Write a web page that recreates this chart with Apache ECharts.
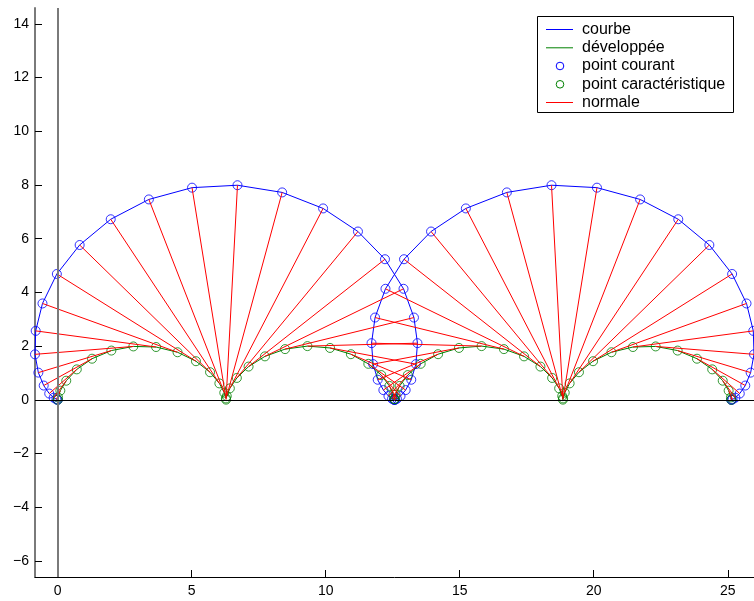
<!DOCTYPE html>
<html>
<head>
<meta charset="utf-8">
<script src="https://cdn.jsdelivr.net/npm/echarts@6/dist/echarts.min.js"></script>
<style>
html,body{margin:0;padding:0;background:#fff;}
#chart{width:754px;height:601px;}
</style>
</head>
<body>
<div id="chart"></div>
<script>
// courbe (point courant)
const curveX = [0, -0.006, -0.048, -0.150, -0.315, -0.521, -0.721, -0.846, -0.820, -0.567, -0.031, 0.820, 1.979, 3.402, 5.013, 6.708, 8.375, 9.903, 11.203, 12.211, 12.903, 13.292, 13.423, 13.364, 13.192, 12.982, 12.792, 12.657, 12.587, 12.567, 12.566, 12.545, 12.475, 12.341, 12.151, 11.940, 11.769, 11.709, 11.841, 12.230, 12.922, 13.930, 15.229, 16.758, 18.425, 20.120, 21.731, 23.154, 24.313, 25.163, 25.700, 25.953, 25.979, 25.854, 25.654, 25.448, 25.283, 25.181, 25.139, 25.133];
const curveY = [0, 0.001, 0.016, 0.078, 0.233, 0.531, 1.012, 1.693, 2.566, 3.587, 4.684, 5.763, 6.722, 7.460, 7.898, 7.989, 7.721, 7.125, 6.265, 5.234, 4.133, 3.063, 2.109, 1.328, 0.747, 0.362, 0.141, 0.038, 0.005, 0.000, 0.000, 0.005, 0.038, 0.141, 0.362, 0.747, 1.328, 2.109, 3.063, 4.133, 5.234, 6.265, 7.125, 7.721, 7.989, 7.898, 7.460, 6.722, 5.763, 4.684, 3.587, 2.566, 1.693, 1.012, 0.531, 0.233, 0.078, 0.016, 0.001, 0];
// développée (point caractéristique)
const evoluteX = [0, 0.013, 0.099, 0.320, 0.713, 1.282, 2.003, 2.823, 3.671, 4.472, 5.159, 5.685, 6.033, 6.216, 6.278, 6.283, 6.308, 6.423, 6.685, 7.122, 7.733, 8.484, 9.318, 10.161, 10.939, 11.590, 12.072, 12.376, 12.524, 12.565, 12.568, 12.609, 12.757, 13.061, 13.543, 14.193, 14.972, 15.815, 16.649, 17.400, 18.011, 18.448, 18.710, 18.825, 18.849, 18.855, 18.917, 19.100, 19.448, 19.974, 20.661, 21.462, 22.310, 23.130, 23.851, 24.420, 24.812, 25.033, 25.120, 25.133];
const evoluteY = [0, 0.089, 0.341, 0.711, 1.133, 1.530, 1.833, 1.987, 1.965, 1.770, 1.437, 1.027, 0.611, 0.265, 0.051, 0.006, 0.138, 0.425, 0.814, 1.237, 1.617, 1.887, 1.999, 1.931, 1.698, 1.340, 0.921, 0.516, 0.198, 0.023, 0.023, 0.198, 0.516, 0.921, 1.340, 1.698, 1.931, 1.999, 1.887, 1.617, 1.237, 0.814, 0.425, 0.138, 0.006, 0.051, 0.265, 0.611, 1.027, 1.437, 1.770, 1.965, 1.987, 1.833, 1.530, 1.133, 0.711, 0.341, 0.089, 0];

const xTicks = [0, 5, 10, 15, 20, 25];
const yTicks = [-6, -4, -2, 0, 2, 4, 6, 8, 10, 12, 14];
const xRange = [-0.846, 25.979];
const yRange = [-6.597, 14.587];
const legendNames = ['courbe', 'développée', 'point courant', 'point caractéristique', 'normale'];

const BLUE = '#0000ff', GREEN = '#008000', RED = '#ff0000';
const VGREY = '#7a7a7a';
const FONT = '"Liberation Sans", Arial, Helvetica, sans-serif';

const curvePts = curveX.map((x, i) => [x, curveY[i]]);
const evolutePts = evoluteX.map((x, i) => [x, evoluteY[i]]);
const normals = curveX.map((x, i) => ({ coords: [[x, curveY[i]], [evoluteX[i], evoluteY[i]]] }));

const fmt = v => String(v).replace('-', '\u2212');

const chart = echarts.init(document.getElementById('chart'), null, { renderer: 'canvas' });

// legend drawn as graphic
const lgX = 537.5, lgY = 16.5, lgW = 196, lgH = 96;
const rowY = [29.5, 47.8, 66, 84.3, 102.5];
const legendEls = [{
  type: 'rect', shape: { x: lgX, y: lgY, width: lgW, height: lgH },
  style: { fill: '#fff', stroke: '#000', lineWidth: 1 }, z: 100
}];
const kinds = ['line', 'line', 'circle', 'circle', 'line'];
const cols = [BLUE, GREEN, BLUE, GREEN, RED];
legendNames.forEach((n, i) => {
  if (kinds[i] === 'line') {
    legendEls.push({ type: 'line', shape: { x1: 546, y1: rowY[i], x2: 573, y2: rowY[i] },
      style: { stroke: cols[i], lineWidth: 1 }, z: 101 });
  } else {
    legendEls.push({ type: 'circle', shape: { cx: 560, cy: rowY[i], r: 3.8 },
      style: { fill: 'none', stroke: cols[i], lineWidth: 1 }, z: 101 });
  }
  legendEls.push({ type: 'text', x: 582, y: rowY[i],
    style: { text: n, fill: '#000', font: '16px ' + FONT, textVerticalAlign: 'middle', verticalAlign: 'middle' }, z: 101 });
});

const option = {
  animation: false,
  backgroundColor: '#fff',
  grid: { left: 35, top: 8, width: 721, height: 569, containLabel: false },
  xAxis: {
    type: 'value', min: xRange[0], max: xRange[1],
    axisLine: { show: true, onZero: false, lineStyle: { color: '#000', width: 1 } },
    axisTick: { show: true, inside: true, length: 7, customValues: xTicks, lineStyle: { color: '#000' } },
    axisLabel: { show: true, customValues: xTicks, formatter: fmt, color: '#000', fontSize: 14, fontFamily: FONT, margin: 7 },
    splitLine: { show: false }
  },
  yAxis: {
    type: 'value', min: yRange[0], max: yRange[1],
    axisLine: { show: true, onZero: false, lineStyle: { color: VGREY, width: 2 } },
    axisTick: { show: true, inside: true, length: 7, customValues: yTicks, lineStyle: { color: '#000' } },
    axisLabel: { show: true, customValues: yTicks, formatter: fmt, color: '#000', fontSize: 14, fontFamily: FONT, margin: 6 },
    splitLine: { show: false }
  },
  series: [
    {
      name: 'courbe', type: 'line', data: curvePts, showSymbol: false, symbol: 'none',
      lineStyle: { color: BLUE, width: 1 }, clip: true, z: 2,
      markLine: {
        silent: true, symbol: 'none', label: { show: false },
        lineStyle: { color: '#000', width: 1, type: 'solid' },
        data: [
          { xAxis: 0, lineStyle: { color: VGREY, width: 2, type: 'solid' } },
          { yAxis: 0, lineStyle: { color: '#000', width: 1, type: 'solid' } }
        ]
      }
    },
    {
      name: 'développée', type: 'line', data: evolutePts, showSymbol: false, symbol: 'none',
      lineStyle: { color: GREEN, width: 1 }, clip: true, z: 2
    },
    {
      name: 'point courant', type: 'scatter', data: curvePts, symbol: 'circle', symbolSize: 9,
      itemStyle: { color: 'rgba(0,0,0,0)', borderColor: BLUE, borderWidth: 1 }, clip: true, z: 3
    },
    {
      name: 'point caractéristique', type: 'scatter', data: evolutePts, symbol: 'circle', symbolSize: 9,
      itemStyle: { color: 'rgba(0,0,0,0)', borderColor: GREEN, borderWidth: 1 }, clip: true, z: 3
    },
    {
      name: 'normale', type: 'lines', coordinateSystem: 'cartesian2d', data: normals,
      lineStyle: { color: RED, width: 1, opacity: 1, curveness: 0 }, z: 4
    }
  ],
  graphic: legendEls
};
chart.setOption(option);
</script>
</body>
</html>
